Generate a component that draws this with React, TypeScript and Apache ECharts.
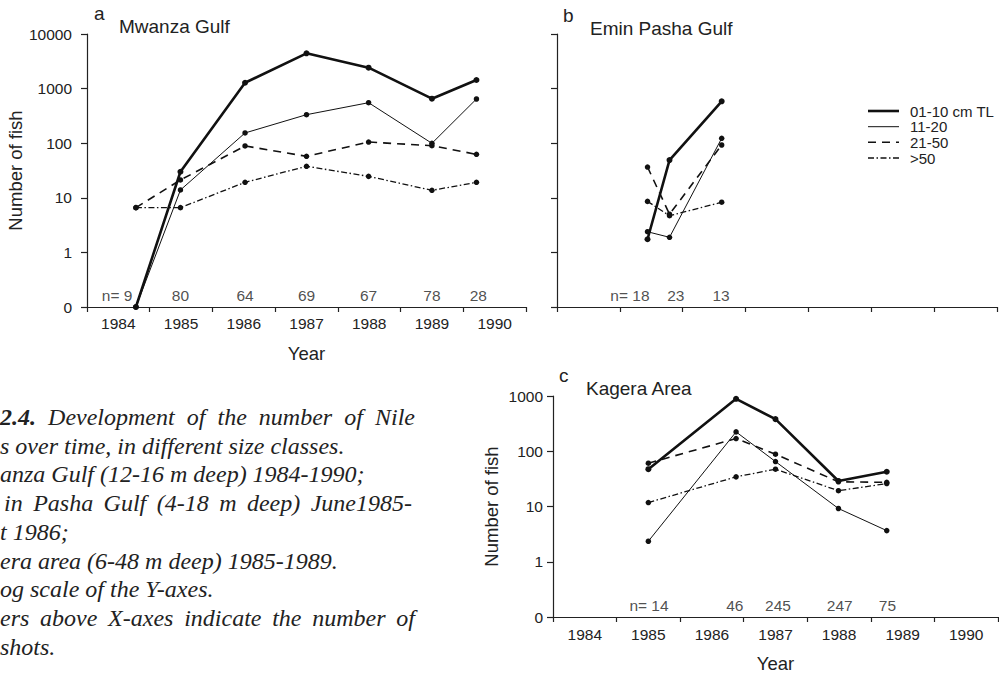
import React, { useEffect, useRef } from "react";
import * as echarts from "echarts";

// ---------- data ----------
const yearCats = ["1984", "1985", "1986", "1987", "1988", "1989", "1990"];

// Panel a: Mwanza Gulf (0 plotted at 0.1 on the log axis)
const xA = [1984.78, 1985.49, 1986.52, 1987.5, 1988.49, 1989.5, 1990.21];
const a01 = [0.1, 30, 1280, 4430, 2415, 653, 1438];
const a11 = [0.1, 13.9, 154, 333, 552, 99.5, 645];
const a21 = [6.6, 21.2, 89, 57.5, 105, 90, 62.5];
const a50 = [6.6, 6.6, 19.2, 37.8, 24.7, 13.7, 19.2];
const nA = ["n= 9", "80", "64", "69", "67", "78", "28"];
const nAx = [1984.48, 1985.49, 1986.52, 1987.5, 1988.49, 1989.5, 1990.24];

// Panel b: Emin Pasha Gulf
const xB = [1985.44, 1985.79, 1986.62];
const b01 = [1.74, 49, 585];
const b11 = [2.39, 1.89, 123];
const b21 = [36.6, 5.0, 92.7];
const b50 = [8.6, 4.7, 8.3];
const nB = ["n= 18", "23", "13"];
const nBx = [1985.16, 1985.89, 1986.61];

// Panel c: Kagera Area
const xC = [1985.5, 1986.88, 1987.5, 1988.49, 1989.25];
const c01 = [47.4, 889, 381, 29, 42.6];
const c11 = [2.35, 224, 65, 9.2, 3.66];
const c21 = [60.8, 170, 88.5, 28, 27.4];
const c50 = [11.8, 34.4, 47.4, 19.3, 26];
const nC = ["n= 14", "46", "245", "247", "75"];
const nCx = [1985.51, 1986.86, 1987.54, 1988.51, 1989.26];

const legendNames = ["01-10 cm TL", "11-20", "21-50", ">50"];

// caption fragments
const captionLines = [
  { words: ["2.4.", "Development", "of", "the", "number", "of", "Nile"], x0: 0, x1: 415, y: 417, justify: true, boldFirst: true },
  { text: "s over time, in different size classes.", x0: 0, y: 445.7 },
  { text: "anza Gulf (12-16 m deep) 1984-1990;", x0: 0, y: 474.4 },
  { words: ["in", "Pasha", "Gulf", "(4-18", "m", "deep)", "June1985-"], x0: 4, x1: 412, y: 503.1, justify: true },
  { text: "t 1986;", x0: 0, y: 531.8 },
  { text: "era area (6-48 m deep) 1985-1989.", x0: 0, y: 560.5 },
  { text: "og scale of the Y-axes.", x0: 0, y: 589.2 },
  { words: ["ers", "above", "X-axes", "indicate", "the", "number", "of"], x0: 0, x1: 415, y: 617.9, justify: true },
  { text: "shots.", x0: 0, y: 646.6 },
];

// ---------- styles ----------
const INK = "#111";
const TXT = "#222";
const SANS = "'Liberation Sans', Arial, Helvetica, sans-serif";
const SERIF = "'Liberation Serif', 'Times New Roman', serif";
const lineStyles = [
  { width: 2.6, type: "solid" as any },
  { width: 1, type: "solid" as any },
  { width: 1.6, type: [8, 6] as any },
  { width: 1.3, type: [6, 2.5, 1.5, 2.5] as any },
];

function measure(text: string, font: string): number {
  const ctx = document.createElement("canvas").getContext("2d")!;
  ctx.font = font;
  return ctx.measureText(text).width;
}

function buildCaption(): any[] {
  const out: any[] = [];
  const size = 24;
  const baseFont = `italic ${size}px 'Liberation Serif'`;
  const boldFont = `italic bold ${size}px 'Liberation Serif'`;
  for (const ln of captionLines as any[]) {
    if (ln.justify) {
      const widths = ln.words.map((w: string, i: number) =>
        measure(w, i === 0 && ln.boldFirst ? boldFont : baseFont)
      );
      const sum = widths.reduce((s: number, v: number) => s + v, 0);
      const gap = (ln.x1 - ln.x0 - sum) / (ln.words.length - 1);
      let x = ln.x0;
      ln.words.forEach((w: string, i: number) => {
        out.push({
          type: "text",
          x,
          y: ln.y,
          style: {
            text: w,
            fontFamily: SERIF,
            fontSize: size,
            fontStyle: "italic",
            fontWeight: i === 0 && ln.boldFirst ? "bold" : "normal",
            fill: TXT,
            align: "left",
            verticalAlign: "middle",
          },
        });
        x += widths[i] + gap;
      });
    } else {
      out.push({
        type: "text",
        x: ln.x0,
        y: ln.y,
        style: {
          text: ln.text,
          fontFamily: SERIF,
          fontSize: size,
          fontStyle: "italic",
          fill: TXT,
          align: "left",
          verticalAlign: "middle",
        },
      });
    }
  }
  return out;
}

function lineSeries(name: string, xs: number[], ys: number[], idx: number, axis: number) {
  return {
    name,
    type: "line",
    xAxisIndex: axis * 2 + 1,
    yAxisIndex: axis,
    data: xs.map((x, i) => [x, ys[i]]),
    symbol: "circle",
    symbolSize: idx === 0 ? 6 : 5.5,
    showSymbol: true,
    itemStyle: { color: INK },
    lineStyle: { color: INK, width: lineStyles[idx].width, type: lineStyles[idx].type },
    silent: true,
    z: 3,
  };
}

function nSeries(labels: string[], xs: number[], axis: number) {
  return {
    type: "scatter",
    xAxisIndex: axis * 2 + 1,
    yAxisIndex: axis,
    data: xs.map((x, i) => ({ value: [x, 0.1], name: labels[i] })),
    symbolSize: 1,
    itemStyle: { color: "rgba(0,0,0,0)" },
    silent: true,
    label: {
      show: true,
      position: "top",
      distance: 3,
      formatter: "{b}",
      color: TXT,
      fontFamily: SANS,
      fontSize: 15.5,
    },
    z: 4,
  };
}

const logFmt = (v: number) => (v < 0.5 ? "0" : String(Math.round(v)));

function catAxis(grid: number, showLabels: boolean, name: string, labelMargin: number) {
  return {
    gridIndex: grid,
    type: "category",
    data: yearCats,
    boundaryGap: true,
    axisLine: { show: true, lineStyle: { color: "#222", width: 1.2 } },
    axisTick: { show: true, length: 5, lineStyle: { color: "#222", width: 1.2 } },
    axisLabel: {
      show: showLabels,
      margin: labelMargin,
      color: TXT,
      fontFamily: SANS,
      fontSize: 15.5,
    },
    splitLine: { show: false },
    name,
    nameLocation: "middle",
    nameGap: 37,
    nameTextStyle: { color: TXT, fontFamily: SANS, fontSize: 18.5 },
  };
}

function valAxis(grid: number) {
  return { gridIndex: grid, type: "value", min: 1984, max: 1991, show: false };
}

function logAxis(grid: number, max: number, showLabels: boolean, name: string, margin: number, nameGap: number) {
  return {
    gridIndex: grid,
    type: "log",
    logBase: 10,
    min: 0.1,
    max,
    splitNumber: 5,
    axisLine: { show: true, lineStyle: { color: "#222", width: 1.2 } },
    axisTick: { show: true, length: 6, lineStyle: { color: "#222", width: 1.2 } },
    axisLabel: {
      show: showLabels,
      formatter: logFmt,
      margin,
      color: TXT,
      fontFamily: SANS,
      fontSize: 15.5,
    },
    splitLine: { show: false },
    minorTick: { show: false },
    name,
    nameLocation: "middle",
    nameRotate: 90,
    nameGap,
    nameTextStyle: { color: TXT, fontFamily: SANS, fontSize: 18.5 },
  };
}

function titleText(text: string, x: number, y: number, size: number) {
  return {
    type: "text",
    x,
    y,
    style: { text, fontFamily: SANS, fontSize: size, fill: TXT, align: "left", verticalAlign: "middle" },
  };
}

function legendGraphic(): any[] {
  const ys = [111, 126.7, 142.3, 158];
  const out: any[] = [];
  ys.forEach((y, i) => {
    out.push({
      type: "line",
      shape: { x1: 868, y1: y, x2: 899, y2: y },
      style: {
        stroke: INK,
        lineWidth: lineStyles[i].width,
        lineDash: Array.isArray(lineStyles[i].type) ? lineStyles[i].type : null,
      },
    });
    out.push({
      type: "text",
      x: 910,
      y,
      style: {
        text: legendNames[i],
        fontFamily: SANS,
        fontSize: 15,
        lineHeight: 15,
        fill: TXT,
        align: "left",
        verticalAlign: "middle",
      },
    });
  });
  return out;
}

export default function App() {
  const ref = useRef<HTMLDivElement>(null);
  useEffect(() => {
    if (!ref.current) return;
    const chart = echarts.init(ref.current, undefined, { renderer: "svg" });
    const option: any = {
      animation: false,
      backgroundColor: "#ffffff",
      grid: [
        { left: 87, top: 34, width: 439, height: 273 },
        { left: 557, top: 34, width: 440, height: 273 },
        { left: 553, top: 396, width: 445, height: 221 },
      ],
      xAxis: [
        catAxis(0, true, "Year", 8),
        valAxis(0),
        catAxis(1, false, "", 8),
        valAxis(1),
        catAxis(2, true, "Year", 9),
        valAxis(2),
      ],
      yAxis: [
        logAxis(0, 10000, true, "Number of fish", 15, 54),
        logAxis(1, 10000, false, "", 8, 40),
        logAxis(2, 1000, true, "Number of fish", 10, 52),
      ],
      series: [
        lineSeries(legendNames[0], xA, a01, 0, 0),
        lineSeries(legendNames[1], xA, a11, 1, 0),
        lineSeries(legendNames[2], xA, a21, 2, 0),
        lineSeries(legendNames[3], xA, a50, 3, 0),
        nSeries(nA, nAx, 0),
        lineSeries(legendNames[0], xB, b01, 0, 1),
        lineSeries(legendNames[1], xB, b11, 1, 1),
        lineSeries(legendNames[2], xB, b21, 2, 1),
        lineSeries(legendNames[3], xB, b50, 3, 1),
        nSeries(nB, nBx, 1),
        lineSeries(legendNames[0], xC, c01, 0, 2),
        lineSeries(legendNames[1], xC, c11, 1, 2),
        lineSeries(legendNames[2], xC, c21, 2, 2),
        lineSeries(legendNames[3], xC, c50, 3, 2),
        nSeries(nC, nCx, 2),
      ],
      graphic: [
        titleText("a", 94, 13.6, 19),
        titleText("Mwanza Gulf", 119, 26.7, 19),
        titleText("b", 563, 15.3, 19),
        titleText("Emin Pasha Gulf", 590, 28.4, 19),
        titleText("c", 559, 375.6, 19),
        titleText("Kagera Area", 586, 388.4, 19),
        ...legendGraphic(),
        ...buildCaption(),
      ],
    };
    chart.setOption(option);
    return () => chart.dispose();
  }, []);
  return (
    <div
      ref={ref}
      style={{ position: "fixed", left: 0, top: 0, width: 999, height: 675, background: "#fff" }}
    />
  );
}
